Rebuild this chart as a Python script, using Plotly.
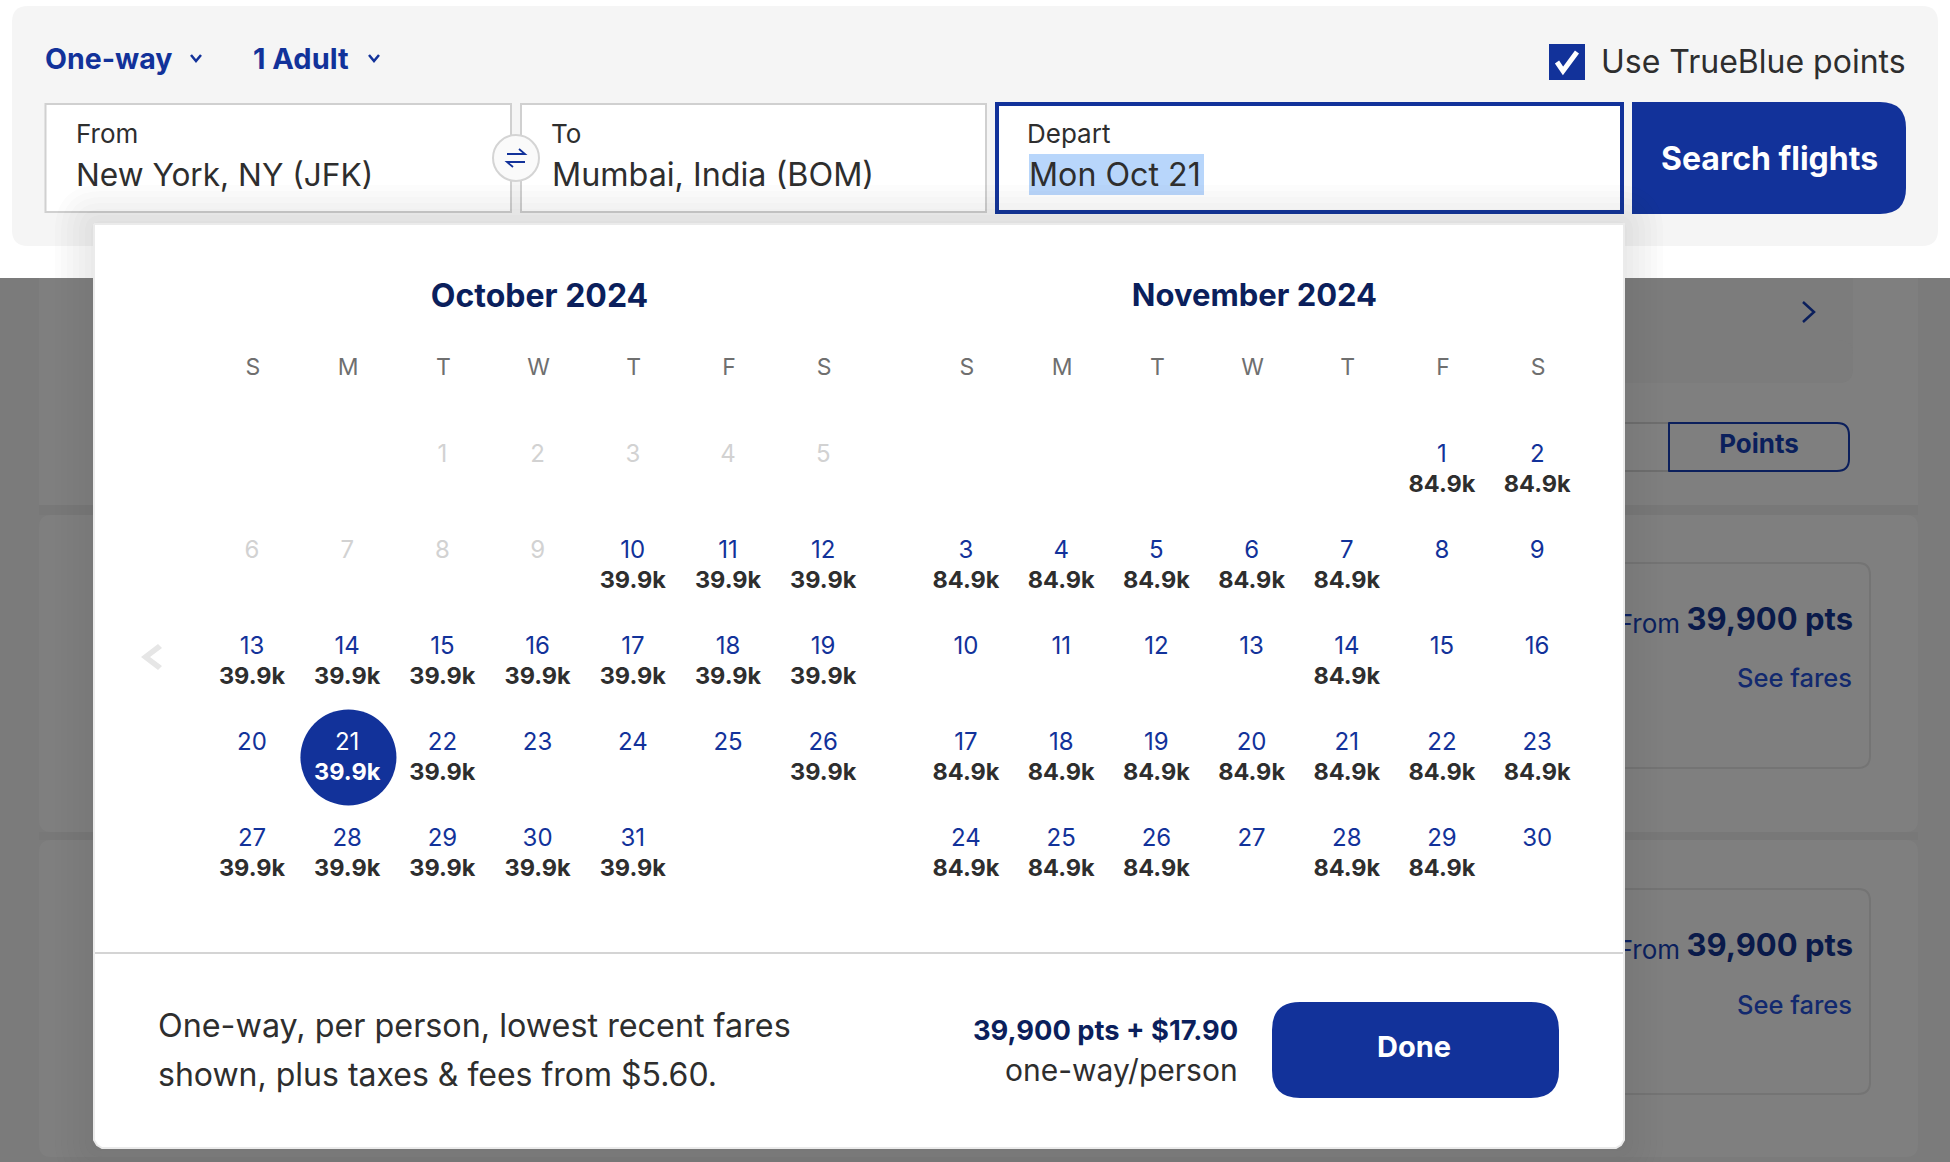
import plotly.graph_objects as go

# calendar data, points price in thousands (None = no fare shown)
months = ["October 2024", "November 2024"]
weekdays = ["S", "M", "T", "W", "T", "F", "S"]
oct_start = 2
nov_start = 5
oct_points = [None, None, None, None, None, None, None, None, None, 39.9,
              39.9, 39.9, 39.9, 39.9, 39.9, 39.9, 39.9, 39.9, 39.9, None,
              39.9, 39.9, None, None, None, 39.9, 39.9, 39.9, 39.9, 39.9, 39.9]
nov_points = [84.9, 84.9, 84.9, 84.9, 84.9, 84.9, 84.9, None, None, None,
              None, None, None, 84.9, None, None, 84.9, 84.9, 84.9, 84.9,
              84.9, 84.9, 84.9, 84.9, 84.9, 84.9, None, 84.9, 84.9, None]
oct_first_open = 10
selected_day = 21

FONT = "Inter"
BLUE = "#12329a"
NAVY = "#0b1f5c"
DARK = "#2e2e2e"
NOV_OFFSET = 7.5


def rounded(x0, y0, x1, y1, r, r_left=None):
    if r_left is None:
        r_left = r
    return (f"M{x0+r_left},{y0} L{x1-r},{y0} Q{x1},{y0} {x1},{y0+r} L{x1},{y1-r} Q{x1},{y1} {x1-r},{y1} "
            f"L{x0+r_left},{y1} Q{x0},{y1} {x0},{y1-r_left} L{x0},{y0+r_left} Q{x0},{y0} {x0+r_left},{y0} Z")


shapes = []


def box(x0, y0, x1, y1, fill=None, line=None, width=0):
    shapes.append(dict(type="rect", x0=x0, y0=y0, x1=x1, y1=y1, xref="x", yref="y", fillcolor=fill,
                       line=dict(color=line, width=width if line else 0)))


def pth(d, fill=None, line=None, width=0):
    shapes.append(dict(type="path", path=d, xref="x", yref="y", fillcolor=fill,
                       line=dict(color=line, width=width if line else 0)))


# page behind the overlay
box(0, 278, 1950, 1162, fill="#7b7b7b")
box(39, 278, 1918, 505, fill="#7f7f7f")
box(39, 505, 1918, 515, fill="#787878")
pth(rounded(39, 515, 1918, 832, 12), fill="#7f7f7f")
box(39, 832, 1918, 840, fill="#787878")
pth(rounded(39, 840, 1918, 1157, 12), fill="#7f7f7f")
box(200, 278, 1853, 370, fill="#7c7c7c")
pth(rounded(200, 340, 1853, 383, 14), fill="#7c7c7c")
pth("M1803,302 L1814,312 L1803,322", line=NAVY, width=2.5)
box(200, 423, 1669, 471, fill="#808080", line="#6e6e6e", width=2)
pth(rounded(1669, 423, 1849, 471, 12, 0.01), fill="#7f7f7f", line=NAVY, width=2)
pth(rounded(200, 563, 1870, 768, 12), line="#747474", width=2)
pth(rounded(200, 889, 1870, 1094, 12), line="#747474", width=2)

# search form
pth(rounded(12, 6, 1938, 246, 16), fill="#f5f5f5")
box(45.5, 104, 511, 212, fill="white", line="#d0d0d0", width=2)
box(521, 104, 986, 212, fill="white", line="#d0d0d0", width=2)
box(997, 104, 1622, 212, fill="white", line=BLUE, width=4)
box(1029, 154, 1204, 195, fill="#b8d6fb")
pth(rounded(1632, 102, 1906, 214, 26, 0.01), fill=BLUE)
shapes.append(dict(type="circle", x0=493, y0=135, x1=539, y1=181, xref="x", yref="y",
                   fillcolor="#fafafa", line=dict(color="#d4d4d4", width=2)))
pth("M507,154 L525,154 L519,149", line=BLUE, width=1.8)
pth("M525,162 L507,162 L513,167", line=BLUE, width=1.8)
box(1549, 44, 1585, 80, fill=BLUE)
pth("M1557,62 L1563,71 L1577,52", line="white", width=5)
pth("M191,55 L196,61 L201,55", line=BLUE, width=2.5)
pth("M369,55 L374,61 L379,55", line=BLUE, width=2.5)

# panel shadow, stacked soft rects
for i in range(7):
    grow = 3 + i * 6
    pth(rounded(94 - grow, 224 - grow, 1624 + grow, 1148 + grow, 8 + grow), fill="rgba(50,55,85,0.016)")

# things on top of the panel, drawn above the traces
above_from = len(shapes)
box(95, 952, 1623, 954, fill="#d4d4d4")
pth(rounded(1272, 1002, 1559, 1098, 28), fill=BLUE)
pth("M158,644 L141,657 L158,670 L162,666 L150,657 L162,648 Z", fill="#e6e6e6")
for s in shapes[above_from:]:
    s["layer"] = "above"
for s in shapes[:above_from]:
    s["layer"] = "below"

fig = go.Figure()

# page text sitting behind the panel (the F of From gets cut off)
fig.add_trace(go.Scatter(x=[1680, 1680], y=[626, 952], mode="text", text=["From", "From"],
                         textposition="middle left", textfont=dict(family=FONT, size=26, color=NAVY)))
fig.add_trace(go.Scatter(x=[1853, 1853], y=[622.5, 948.5], mode="text", text=["39,900 pts", "39,900 pts"],
                         textposition="middle left", textfont=dict(family=FONT, size=31, color="#0a1a4a", weight=700)))
fig.add_trace(go.Scatter(x=[1852, 1852], y=[680.5, 1007.5], mode="text", text=["See fares", "See fares"],
                         textposition="middle left", textfont=dict(family=FONT, size=25.5, color="#12296e", weight=500)))
fig.add_trace(go.Scatter(x=[1759], y=[446.5], mode="text", text=["Points"], textposition="middle center",
                         textfont=dict(family=FONT, size=26, color=NAVY, weight=700)))

# white panel
fig.add_trace(go.Scatter(x=[94, 1624, 1624, 1621, 1616, 102, 97, 94, 94],
                         y=[224, 224, 1140, 1145, 1148, 1148, 1145, 1140, 224],
                         mode="lines", fill="toself", fillcolor="white", line=dict(color="#ebebeb", width=2)))

# calendar grid on its own column/row axes
header_x, header_y, header_t = [], [], []
for offset in (0, NOV_OFFSET):
    for col, name in enumerate(weekdays):
        header_x.append(col + offset + 0.01)
        header_y.append(-0.9)
        header_t.append(name)
fig.add_trace(go.Scatter(x=header_x, y=header_y, text=header_t, mode="text", xaxis="x2", yaxis="y2",
                         textfont=dict(family=FONT, size=23, color="#6f6f6f")))
fig.add_trace(go.Scatter(x=[3.02, 3.03 + NOV_OFFSET], y=[-1.64, -1.64], text=months, mode="text", xaxis="x2", yaxis="y2",
                         textfont=dict(family=FONT, size=[32, 31], color=NAVY, weight=700)))

open_x, open_y, open_t = [], [], []
shut_x, shut_y, shut_t = [], [], []
price_x, price_y, price_t = [], [], []
sel_x, sel_y = None, None
for points, start, offset, first_open in ((oct_points, oct_start, 0, oct_first_open), (nov_points, nov_start, NOV_OFFSET, 1)):
    for i, value in enumerate(points):
        day = i + 1
        col = (start + i) % 7 + offset
        row = (start + i) // 7
        if day == selected_day and offset == 0:
            sel_x, sel_y = col, row
            continue
        if day < first_open:
            shut_x.append(col)
            shut_y.append(row)
            shut_t.append(str(day))
            continue
        open_x.append(col)
        open_y.append(row)
        open_t.append(str(day))
        if value is not None:
            price_x.append(col)
            price_y.append(row + 0.3125)
            price_t.append(f"{value}k")

fig.add_trace(go.Scatter(x=shut_x, y=shut_y, text=shut_t, mode="text", xaxis="x2", yaxis="y2",
                         textfont=dict(family=FONT, size=24, color="#d2d2d2")))
fig.add_trace(go.Scatter(x=open_x, y=open_y, text=open_t, mode="text", xaxis="x2", yaxis="y2",
                         textfont=dict(family=FONT, size=24, color=BLUE)))
fig.add_trace(go.Scatter(x=price_x, y=price_y, text=price_t, mode="text", xaxis="x2", yaxis="y2",
                         textfont=dict(family=FONT, size=23.5, color=DARK, weight=700)))
fig.add_trace(go.Scatter(x=[sel_x + 0.013], y=[sel_y + 0.14], mode="markers", xaxis="x2", yaxis="y2",
                         marker=dict(size=96, color=BLUE)))
fig.add_trace(go.Scatter(x=[sel_x], y=[sel_y], text=[str(selected_day)], mode="text", xaxis="x2", yaxis="y2",
                         textfont=dict(family=FONT, size=24, color="white")))
fig.add_trace(go.Scatter(x=[sel_x], y=[sel_y + 0.3125], text=[f"{oct_points[selected_day - 1]}k"], mode="text",
                         xaxis="x2", yaxis="y2", textfont=dict(family=FONT, size=23.5, color="white", weight=700)))


def label(x, y, s, size, color=DARK, anchor="left", weight=400):
    return dict(x=x, y=y, xref="x", yref="y", text=s, showarrow=False, xanchor=anchor, yanchor="middle",
                font=dict(family=FONT, size=size, color=color, weight=weight))


annotations = [
    label(42.5, 58, "One-way", 28.5, BLUE, weight=700),
    label(251, 58, "1 Adult", 29, BLUE, weight=700),
    label(1599, 61, "Use TrueBlue points", 32),
    label(73.5, 133, "From", 26),
    label(73.5, 174, "New York, NY (JFK)", 31.6),
    label(548.5, 133, "To", 26),
    label(549.5, 174, "Mumbai, India (BOM)", 32.3),
    label(1025, 133, "Depart", 26),
    label(1027, 174, "Mon Oct 21", 32.2),
    label(1769, 158, "Search flights", 32, "white", "center", 700),
    label(156, 1025, "One-way, per person, lowest recent fares", 32.3),
    label(156, 1074, "shown, plus taxes &amp; fees from $5.60.", 32),
    label(1240, 1030, "39,900 pts + $17.90", 27.3, NAVY, "right", 700),
    label(1240, 1070, "one-way/person", 30, DARK, "right"),
    label(1414, 1046, "Done", 29, "white", "center", 700),
]

fig.update_layout(
    width=1950, height=1162, margin=dict(l=0, r=0, t=0, b=0), autosize=False,
    paper_bgcolor="white", plot_bgcolor="white", showlegend=False, hovermode=False,
    shapes=shapes, annotations=annotations,
    xaxis=dict(range=[0, 1950], visible=False, fixedrange=True),
    yaxis=dict(range=[1162, 0], visible=False, fixedrange=True),
    xaxis2=dict(range=[-252 / 95.2, (1950 - 252) / 95.2], overlaying="x", visible=False, fixedrange=True),
    yaxis2=dict(range=[(1162 - 456) / 96, -456 / 96], overlaying="y", visible=False, fixedrange=True),
)
fig.write_html("out.html", config=dict(displayModeBar=False), post_script="document.body.style.margin='0';")
